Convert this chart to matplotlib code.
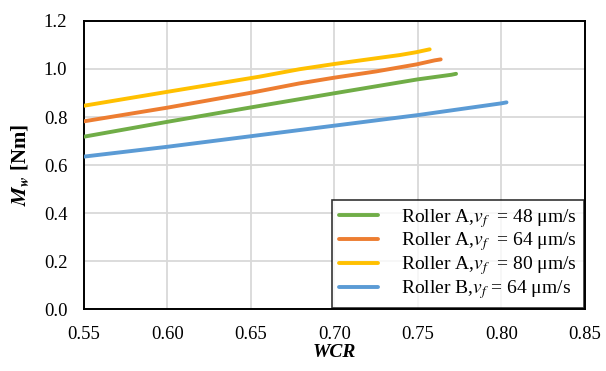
import numpy as np
import matplotlib.pyplot as plt

plt.rcParams['font.family'] = ['Liberation Serif', 'DejaVu Serif']
plt.rcParams['mathtext.fontset'] = 'stix'

# Roller A, vf = 48 um/s
wcr_a48 = [0.55, 0.60, 0.65, 0.70, 0.75, 0.77, 0.7728]
mw_a48 = [0.718, 0.780, 0.840, 0.899, 0.957, 0.976, 0.980]
# Roller A, vf = 64 um/s
wcr_a64 = [0.55, 0.60, 0.65, 0.679, 0.70, 0.725, 0.749, 0.760, 0.7636]
mw_a64 = [0.782, 0.839, 0.901, 0.940, 0.964, 0.990, 1.019, 1.036, 1.040]
# Roller A, vf = 80 um/s
wcr_a80 = [0.55, 0.60, 0.655, 0.679, 0.70, 0.72, 0.739, 0.749, 0.757]
mw_a80 = [0.847, 0.905, 0.968, 0.999, 1.021, 1.040, 1.058, 1.070, 1.082]
# Roller B, vf = 64 um/s
wcr_b64 = [0.55, 0.60, 0.65, 0.70, 0.75, 0.80, 0.803]
mw_b64 = [0.635, 0.676, 0.720, 0.764, 0.808, 0.857, 0.861]

labels = [r'Roller A,$v_f$  = 48 μm/s',
          r'Roller A,$v_f$  = 64 μm/s',
          r'Roller A,$v_f$  = 80 μm/s',
          r'Roller B,$v_f$ = 64 μm/s']
colors = ['#70ad47', '#ed7d31', '#ffc000', '#5b9bd5']

fig = plt.figure(figsize=(6.06, 3.71), dpi=100)
ax = fig.add_axes([0.1386, 0.1671, 0.8267, 0.7763])

series = [(wcr_a48, mw_a48), (wcr_a64, mw_a64), (wcr_a80, mw_a80), (wcr_b64, mw_b64)]
for (x, y), c, lab in zip(series, colors, labels):
    ax.plot(x, y, color=c, lw=2.8, label=lab, solid_capstyle='round', zorder=3)

xt = np.arange(0.55, 0.851, 0.05)
yt = np.arange(0, 1.21, 0.2)
ax.set_xlim(0.55, 0.85)
ax.set_ylim(0, 1.2)
ax.set_xticks(xt)
ax.set_yticks(yt)
ax.set_xticklabels(['%.2f' % v for v in xt])
ax.set_yticklabels(['%.1f' % v for v in yt])
ax.tick_params(length=0, labelsize=13.5)
ax.tick_params(axis='x', pad=12)
ax.tick_params(axis='y', pad=12)
ax.grid(color='#d9d9d9', lw=1.3)
ax.set_axisbelow(True)
for s in ax.spines.values():
    s.set_linewidth(1.4)
    s.set_color('black')

ax.set_xlabel('WCR', fontsize=14, fontweight='bold', fontstyle='italic', labelpad=1)
ax.set_ylabel(r'$\mathbfit{M_w}$ [Nm]', fontsize=15, fontweight='bold', labelpad=9)

leg = ax.legend(loc='lower right', fontsize=14, frameon=True, fancybox=False,
                borderaxespad=0.05, handlelength=2.0, labelspacing=0.05,
                borderpad=0.35, handletextpad=1.2)
leg.get_frame().set_edgecolor('black')
leg.get_frame().set_linewidth(1.2)

fig.savefig('out.png', dpi=100)
